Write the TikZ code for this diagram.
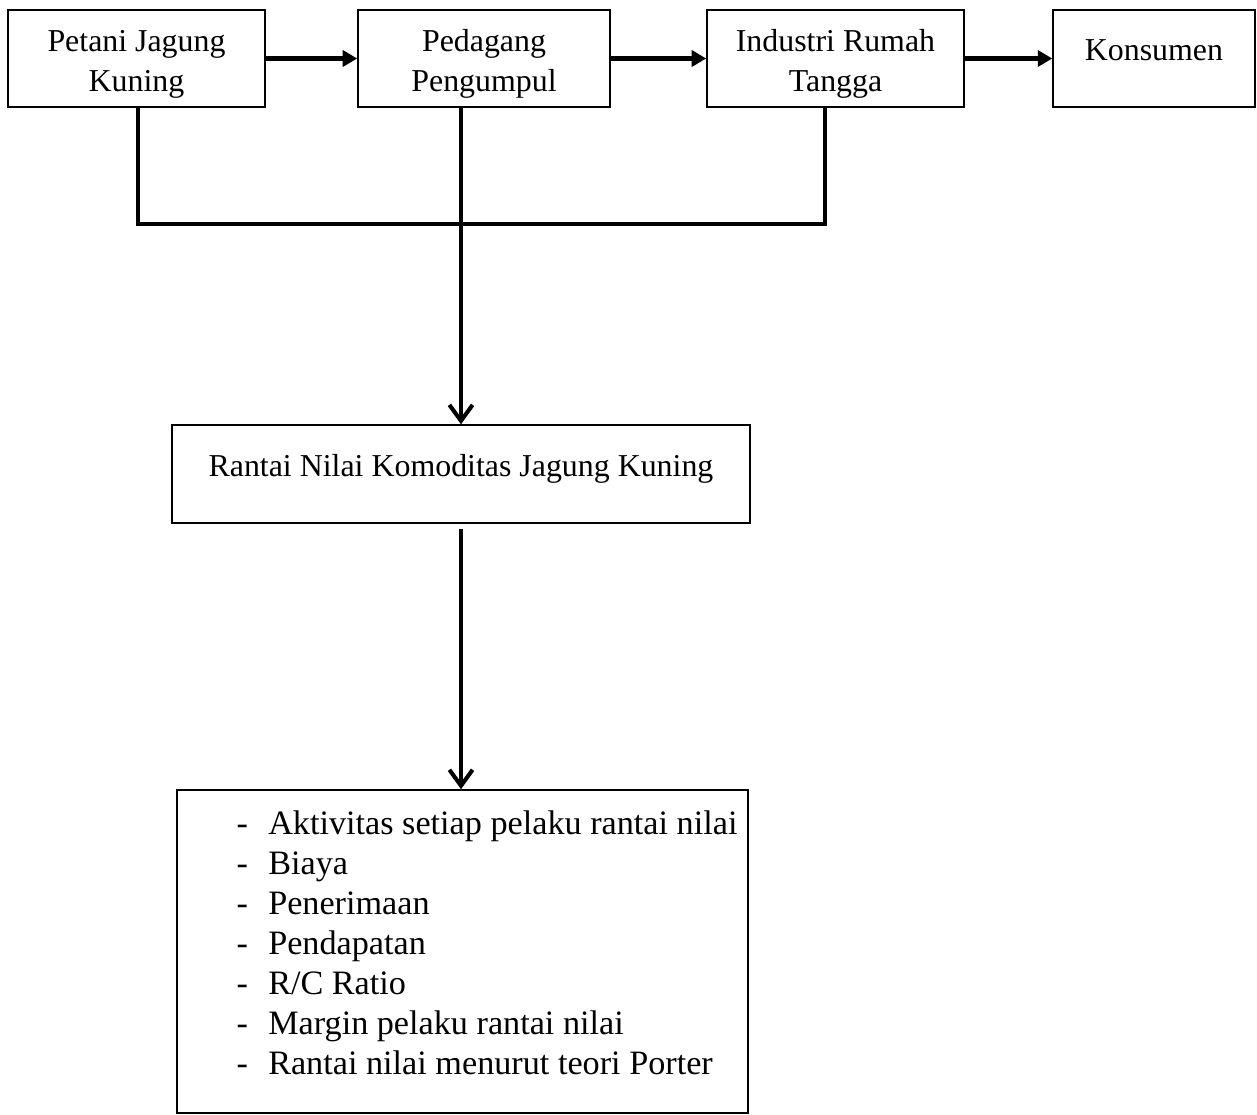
\documentclass[tikz,border=0pt]{standalone}
\usepackage{fontspec}
\setmainfont{Liberation Serif}
\usetikzlibrary{arrows.meta,positioning,calc}

\begin{document}
\begin{tikzpicture}[x=0.345pt, y=-0.345pt,
    actor/.style={draw, line width=0.5pt, minimum height=33.5pt, align=center, font=\fontsize{11}{13.8}\selectfont, inner sep=2pt},
    twoline/.style={text height=25pt},
    flowarrow/.style={-{Triangle[length=5pt, width=5.5pt]}, line width=1.4pt},
    downarrow/.style={-{Straight Barb[length=5.5pt, width=8pt]}, line width=1.4pt},
    busline/.style={line width=1.4pt}
]
    \useasboundingbox (0,0) rectangle (1257,1115);

    % Top row of actors
    \node[actor, twoline, minimum width=88.7pt] (petani) at (136.5,58.5) {Petani Jagung\\Kuning};
    \node[actor, twoline, minimum width=87pt] (pedagang) at (484,58.5) {Pedagang\\Pengumpul};
    \node[actor, twoline, minimum width=88.7pt] (industri) at (835.5,58.5) {Industri Rumah\\Tangga};
    \node[actor, minimum width=69.7pt] (konsumen) at (1154,58.5) {Konsumen\\[-8pt]};

    % Flow between actors
    \draw[flowarrow] (petani.east) -- (pedagang.west);
    \draw[flowarrow] (pedagang.east) -- (industri.west);
    \draw[flowarrow] (industri.east) -- (konsumen.west);

    % Value chain box
    \node[actor, minimum width=199.4pt, minimum height=33.8pt] (rantai) at (461,474) {Rantai Nilai Komoditas Jagung Kuning\\[-8pt]};

    % Analysis box
    \node[draw, line width=0.5pt, minimum width=197pt, minimum height=111.5pt] (analisis) at (462.5,951.5) {};
    \node[anchor=north west, align=left, inner sep=0pt, font=\fontsize{11.8}{13.8}\selectfont] (items) at (236,810) {%
        -\hspace{7pt}Aktivitas setiap pelaku rantai nilai\\
        -\hspace{7pt}Biaya\\
        -\hspace{7pt}Penerimaan\\
        -\hspace{7pt}Pendapatan\\
        -\hspace{7pt}R/C Ratio\\
        -\hspace{7pt}Margin pelaku rantai nilai\\
        -\hspace{7pt}Rantai nilai menurut teori Porter};

    % Joining lines
    \coordinate (bus) at (0,224);
    \draw[busline] ([xshift=0.5pt]petani.south) -- ([xshift=0.5pt]petani.south |- bus)
        -- ([xshift=-3.6pt]industri.south |- bus) -- ([xshift=-3.6pt]industri.south);
    \draw[downarrow] (pedagang.south -| rantai.north) -- (rantai.north);
    \draw[downarrow, shorten <=1.7pt] (rantai.south) -- (rantai.south |- analisis.north);
\end{tikzpicture}
\end{document}
